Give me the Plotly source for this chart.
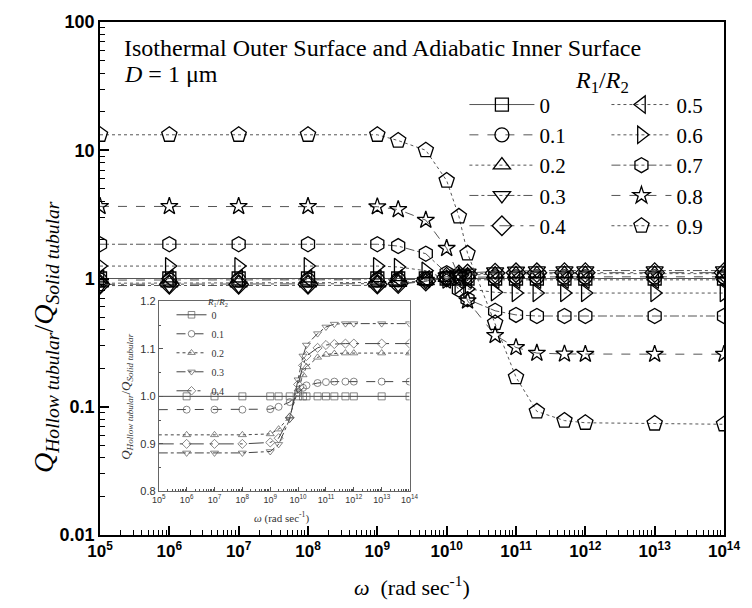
import plotly.graph_objects as go

# ---------------- data ----------------
omega = [1e5, 1e6, 1e7, 1e8, 1e9, 2e9, 5e9, 1e10, 1.5e10, 2e10, 5e10,
         1e11, 2e11, 5e11, 1e12, 1e13, 1e14]

ratio_labels = ["0", "0.1", "0.2", "0.3", "0.4", "0.5", "0.6", "0.7", "0.8", "0.9"]

q_00 = [1.0] * 17
q_01 = [0.972, 0.972, 0.972, 0.972, 0.973, 0.978, 0.988, 1.008, 1.018, 1.023, 1.028,
        1.030, 1.031, 1.031, 1.031, 1.031, 1.031]
q_02 = [0.919, 0.919, 0.919, 0.919, 0.921, 0.931, 0.958, 1.015, 1.045, 1.062, 1.082,
        1.088, 1.090, 1.091, 1.091, 1.091, 1.091]
q_03 = [0.881, 0.881, 0.881, 0.881, 0.884, 0.899, 0.952, 1.035, 1.085, 1.108, 1.132,
        1.146, 1.152, 1.153, 1.153, 1.153, 1.153]
q_04 = [0.900, 0.900, 0.900, 0.900, 0.903, 0.912, 0.955, 1.025, 1.065, 1.085, 1.102,
        1.108, 1.110, 1.111, 1.111, 1.111, 1.111]
q_05 = [1.0, 1.0, 1.0, 1.0, 1.0, 0.998, 0.99, 0.982, 0.978, 0.977, 0.976,
        0.976, 0.976, 0.976, 0.976, 0.976, 0.976]
q_06 = [1.25, 1.25, 1.25, 1.25, 1.25, 1.23, 1.15, 0.98, 0.88, 0.83, 0.78,
        0.77, 0.77, 0.77, 0.77, 0.77, 0.77]
q_07 = [1.85, 1.85, 1.85, 1.85, 1.85, 1.79, 1.56, 1.10, 0.82, 0.69, 0.56,
        0.52, 0.51, 0.51, 0.51, 0.51, 0.51]
q_08 = [3.65, 3.65, 3.65, 3.65, 3.63, 3.45, 2.85, 1.72, 1.05, 0.67, 0.36,
        0.29, 0.262, 0.258, 0.257, 0.257, 0.257]
q_09 = [13.2, 13.2, 13.2, 13.2, 13.2, 11.9, 10.0, 5.8, 3.05, 1.57, 0.45,
        0.17, 0.092, 0.078, 0.075, 0.074, 0.073]

series = [q_00, q_01, q_02, q_03, q_04, q_05, q_06, q_07, q_08, q_09]
inset_series = [q_00, q_01, q_02, q_03, q_04]

x_tick_vals = [1e5, 1e6, 1e7, 1e8, 1e9, 1e10, 1e11, 1e12, 1e13, 1e14]
x_tick_text = ["10<sup>5</sup>", "10<sup>6</sup>", "10<sup>7</sup>", "10<sup>8</sup>",
               "10<sup>9</sup>", "10<sup>10</sup>", "10<sup>11</sup>", "10<sup>12</sup>",
               "10<sup>13</sup>", "10<sup>14</sup>"]
y_tick_vals = [0.01, 0.1, 1, 10, 100]
y_tick_text = ["0.01", "0.1", "1", "10", "100"]
inset_y_tick_vals = [0.8, 0.9, 1.0, 1.1, 1.2]
inset_y_tick_text = ["0.8", "0.9", "1.0", "1.1", "1.2"]

# ---------------- styles ----------------
symbols = ["square-open", "circle-open", "triangle-up-open", "triangle-down-open",
           "diamond-open", "triangle-left-open", "triangle-right-open",
           "hexagon-open", "star-open", "pentagon-open"]
dashes = ["solid", "dash", "dot", "dashdot", "longdashdot",
          "dot", "dot", "dashdot", "dash", "dot"]
msizes = [13, 14, 15, 15, 15, 15, 15, 15, 13, 16]
inset_dashes = ["solid", "dash", "dot", "dashdot", "longdashdot"]

SERIF = "Liberation Serif"
SANS = "Liberation Sans"

fig = go.Figure()

for i, ys in enumerate(series):
    fig.add_trace(go.Scatter(
        x=omega, y=ys, mode="lines+markers", name=ratio_labels[i],
        line=dict(color="#555555", width=1, dash=dashes[i]),
        marker=dict(symbol=symbols[i], size=msizes[i], color="black",
                    line=dict(color="black", width=1.3)),
        legend="legend" if i < 5 else "legend2",
        xaxis="x", yaxis="y",
    ))

inset_msizes = [0] + [7] * (len(omega) - 1)
for i, ys in enumerate(inset_series):
    fig.add_trace(go.Scatter(
        x=omega, y=ys, mode="lines+markers", name=ratio_labels[i],
        line=dict(color="#444444", width=1, dash=inset_dashes[i]),
        marker=dict(symbol=symbols[i], size=inset_msizes, color="#555555",
                    line=dict(color="#555555", width=1)),
        legend="legend3",
        xaxis="x2", yaxis="y2",
    ))

PL, PR, PT, PB = 100, 737, 17, 535
PW, PH = PR - PL, PB - PT


def px_x(x):
    return (x - PL) / PW


def px_y(y):
    return (PB - y) / PH


axis_common = dict(showgrid=False, zeroline=False, showline=True, linecolor="black",
                   linewidth=1.5, mirror=True, ticks="inside", tickcolor="black")

fig.update_layout(
    width=752, height=608,
    margin=dict(l=PL, r=752 - PR, t=PT, b=608 - PB),
    paper_bgcolor="white", plot_bgcolor="white",
    xaxis=dict(type="log", range=[5, 14], tickmode="array", tickvals=x_tick_vals,
               ticktext=x_tick_text, ticklen=9, tickwidth=1.5,
               tickfont=dict(family=SANS, size=17, color="black", weight="bold"),
               minor=dict(ticks="inside", ticklen=5, tickwidth=1, dtick="D1",
                          tickcolor="black", showgrid=False),
               **axis_common),
    yaxis=dict(type="log", range=[-2, 2], tickmode="array", tickvals=y_tick_vals,
               ticktext=y_tick_text, ticklen=9, tickwidth=1.5,
               tickfont=dict(family=SANS, size=18, color="black", weight="bold"),
               minor=dict(ticks="inside", ticklen=5, tickwidth=1, dtick="D1",
                          tickcolor="black", showgrid=False),
               **axis_common),
    xaxis2=dict(type="log", range=[5, 14], domain=[px_x(160), px_x(416)], anchor="y2",
                tickmode="array", tickvals=x_tick_vals, ticktext=x_tick_text,
                ticklen=4, tickwidth=1,
                tickfont=dict(family=SANS, size=9, color="#333333"),
                minor=dict(ticks="inside", ticklen=2, tickwidth=0.8, dtick="D1",
                           tickcolor="#555555", showgrid=False),
                showgrid=False, zeroline=False, showline=True, linecolor="#666666",
                linewidth=1, mirror=True, ticks="inside", tickcolor="#555555"),
    yaxis2=dict(range=[0.8, 1.2], domain=[px_y(491), px_y(299)], anchor="x2",
                tickmode="array", tickvals=inset_y_tick_vals, ticktext=inset_y_tick_text,
                ticklen=4, tickwidth=1,
                tickfont=dict(family=SANS, size=11, color="#333333"),
                minor=dict(ticks="inside", ticklen=2, tickwidth=0.8, dtick=0.05,
                           tickcolor="#555555", showgrid=False),
                showgrid=False, zeroline=False, showline=True, linecolor="#666666",
                linewidth=1, mirror=True, ticks="inside", tickcolor="#555555"),
    legend=dict(x=px_x(472), y=px_y(80), xanchor="left", yanchor="top",
                bgcolor="rgba(0,0,0,0)", font=dict(family=SERIF, size=21, color="black"),
                itemwidth=65, tracegroupgap=0),
    legend2=dict(x=px_x(617), y=px_y(80), xanchor="left", yanchor="top",
                 bgcolor="rgba(0,0,0,0)", font=dict(family=SERIF, size=21, color="black"),
                 itemwidth=60, tracegroupgap=0),
    legend3=dict(x=px_x(173), y=px_y(298), xanchor="left", yanchor="top",
                 bgcolor="rgba(0,0,0,0)", font=dict(family=SERIF, size=10, color="#333333"),
                 itemwidth=30, tracegroupgap=0),
    showlegend=True,
)

annotations = [
    dict(text="Isothermal Outer Surface and Adiabatic Inner Surface",
         x=px_x(122), y=px_y(43), xanchor="left", yanchor="middle",
         font=dict(family=SERIF, size=24, color="black")),
    dict(text="<i>D</i> = 1 μm", x=px_x(122), y=px_y(70), xanchor="left", yanchor="middle",
         font=dict(family=SERIF, size=24, color="black")),
    dict(text="<i>R</i><sub>1</sub>/<i>R</i><sub>2</sub>", x=px_x(612), y=px_y(78),
         xanchor="center", yanchor="middle",
         font=dict(family=SERIF, size=24, color="black")),
    dict(text="<i>ω</i>  (rad sec<sup>-1</sup>)", x=0.5, y=px_y(586),
         xanchor="center", yanchor="middle",
         font=dict(family=SERIF, size=22, color="black")),
    dict(text="<i>Q</i><sub><i>Hollow tubular</i></sub>/<i>Q</i><sub><i>Solid tubular</i></sub>",
         x=px_x(45), y=px_y(335), xanchor="center", yanchor="middle", textangle=-90,
         font=dict(family=SERIF, size=28, color="black")),
    dict(text="<i>R</i><sub>1</sub>/<i>R</i><sub>2</sub>", x=px_x(220), y=px_y(300),
         xanchor="center", yanchor="middle", borderpad=0,
         font=dict(family=SERIF, size=9, color="#333333")),
    dict(text="<i>Q</i><sub><i>Hollow tubular</i></sub>/<i>Q</i><sub><i>Solid tubular</i></sub>",
         x=px_x(127), y=px_y(395), xanchor="center", yanchor="middle", textangle=-90,
         font=dict(family=SERIF, size=13, color="#333333")),
    dict(text="<i>ω</i> (rad sec<sup>-1</sup>)", x=px_x(285), y=px_y(517),
         xanchor="center", yanchor="middle",
         font=dict(family=SERIF, size=11, color="#333333")),
]
for a in annotations:
    a.update(xref="paper", yref="paper", showarrow=False)
fig.update_layout(annotations=annotations)

fig.write_html("out.html")
